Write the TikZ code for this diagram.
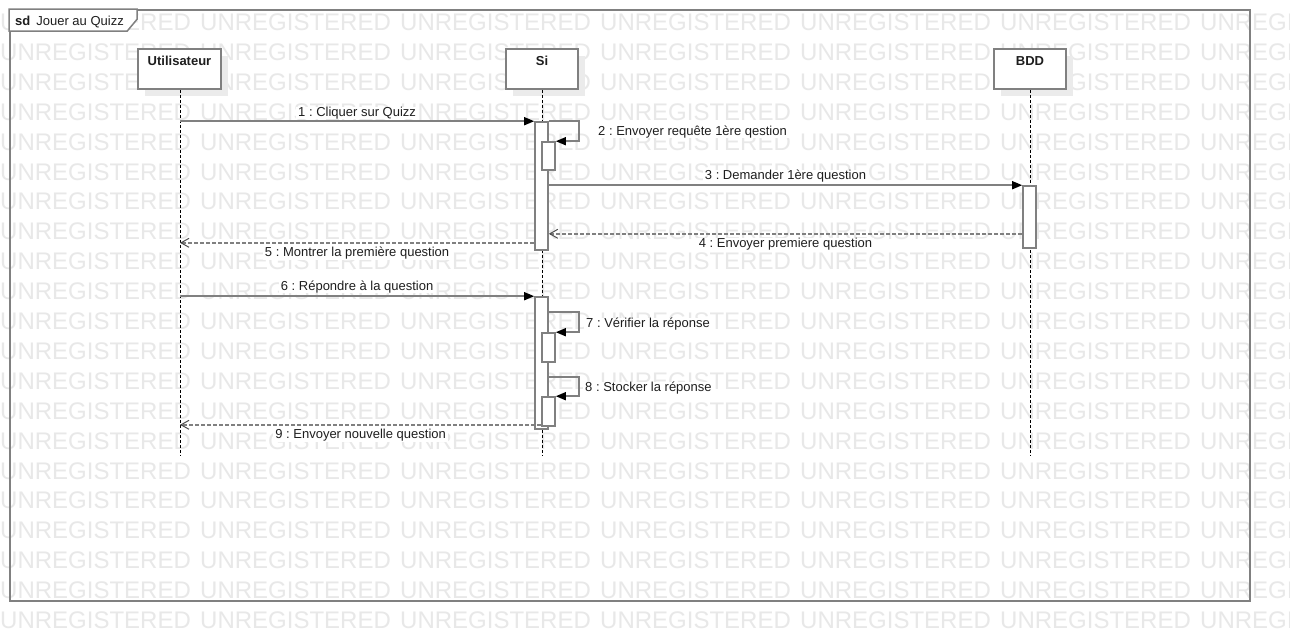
\documentclass[tikz,border=0pt]{standalone}
\usepackage{fontspec}
\setmainfont{Liberation Sans}
\usetikzlibrary{arrows.meta,shadows}
\definecolor{linegray}{HTML}{808080}
\definecolor{wmgray}{HTML}{E8E8E8}
\definecolor{shadowgray}{HTML}{EBEBEB}
\definecolor{inkc}{HTML}{1E1E1E}
\frenchspacing
\begin{document}
\begin{tikzpicture}[x=1pt,y=-1pt,
  wm/.style={font=\fontsize{24}{28}\selectfont, text=wmgray, inner sep=0pt, anchor=base west},
  lbl/.style={font=\fontsize{13}{15}\selectfont, text=inkc, fill=white, inner xsep=2pt, inner ysep=0pt},
  selflbl/.style={lbl, anchor=base west},
  headbox/.style={draw=linegray, line width=1.7pt, fill=white, minimum width=#1,
    minimum height=40pt, inner sep=0pt,
    general shadow={fill=shadowgray, shadow xshift=7pt, shadow yshift=-7pt}},
  headname/.style={font=\fontsize{13}{15}\selectfont\bfseries, text=inkc, inner sep=0pt, anchor=base},
  lifeline/.style={draw=black, line width=1pt, dash pattern=on 3pt off 2pt},
  act/.style={draw=linegray, line width=1.6pt, fill=white, minimum width=13pt,
    inner sep=0pt, minimum height=#1},
  msg/.style={draw=linegray, line width=1.5pt,
    -{Triangle[length=10pt,width=8pt,color=black]}},
  reply/.style={draw=linegray, line width=1.5pt, dash pattern=on 4pt off 2pt,
    -{Straight Barb[length=8pt,width=9pt,line width=1pt,color=linegray!60!black]}},
  frameline/.style={draw=linegray, line width=1.7pt, inner sep=0pt},
  tabshape/.style={draw=linegray, line width=1.5pt, fill=white}
]
\useasboundingbox (0,0) rectangle (1290,641);
\fill[white] (0,0) rectangle (1290,641);

% background stamp text, clipped to the page
\begin{scope}
  \clip (0,0) rectangle (1290,641);
  \foreach \k in {0,...,20}{
    \foreach \j in {0,...,6}{
      \node[wm] (wm-\k-\j) at ({200*\j}, {30.5+29.9*\k}) {UNREGISTERED};
    }
  }
\end{scope}

% diagram frame and its name tab
\node[frameline, minimum width=1240pt, minimum height=591pt] (fr) at (630,305.5) {};
\draw[tabshape] (fr.north west) -- ++(128,0) -- ++(0,10) -- ++(-10,12) -- ++(-118,0) -- cycle;
\node[font=\fontsize{13}{15}\selectfont, text=inkc, inner sep=0pt, anchor=base west]
  (sdname) at (15,25.7) {\textbf{sd}\hspace{6pt}Jouer au Quizz};

% lifeline heads
\node[headbox=83pt] (u) at (179.5,69) {};
\node[headbox=72pt] (s) at (542,69) {};
\node[headbox=72pt] (b) at (1030,69) {};
\node[headname] (uname) at ([yshift=-17.5pt]u.north) {Utilisateur};
\node[headname] (sname) at ([yshift=-17.5pt]s.north) {Si};
\node[headname] (bname) at ([yshift=-17.5pt]b.north) {BDD};

% lifelines
\coordinate (uend) at (180,455);
\coordinate (send) at (542,455);
\coordinate (bend) at (1030,455);
\draw[lifeline] (u.south -| uend) -- (uend);
\draw[lifeline] (s.south) -- (send);
\draw[lifeline] (b.south) -- (bend);

% activation bars
\node[act=128pt] (a1) at (541.5,186) {};
\node[act=28pt] (a1n) at (548.5,156) {};
\node[act=62pt] (b1) at (1029.5,217) {};
\node[act=132pt] (a2) at (541.5,363) {};
\node[act=29pt] (a2a) at (548.5,347.5) {};
\node[act=29pt] (a2b) at (548.5,411.5) {};

% messages
\draw[msg] (uend |- a1.north west) -- (a1.north west)
  node[lbl, midway, anchor=base, yshift=5pt] (l1) {1 : Cliquer sur Quizz};

\draw[msg] (a1.north east) -- ++(30,0) |- (a1n.north east);
\node[selflbl] (l2) at (596,135.7) {2 : Envoyer requête 1ère qestion};

\draw[msg] (a1.east |- b1.north) -- (b1.north west)
  node[lbl, midway, anchor=base, yshift=6pt] (l3) {3 : Demander 1ère question};

\coordinate (r4) at ([yshift=15pt]b1.south west);
\draw[reply] (r4) -- (a1.east |- r4)
  node[lbl, midway, anchor=base, yshift=-14pt] (l4) {4 : Envoyer premiere question};

\coordinate (r5) at ([yshift=8pt]a1.south west);
\draw[reply] (r5) -- (uend |- r5)
  node[lbl, midway, anchor=base, yshift=-14pt] (l5) {5 : Montrer la première question};

\draw[msg] (uend |- a2.north west) -- (a2.north west)
  node[lbl, midway, anchor=base, yshift=6pt] (l6) {6 : Répondre à la question};

\draw[msg] (a2.east |- a2a.north) ++(0,-20) -- ++(30,0) |- (a2a.north east);
\node[selflbl] (l7) at (584,327.7) {7 : Vérifier la réponse};

\draw[msg] (a2.east |- a2b.north) ++(0,-19) -- ++(30,0) |- (a2b.north east);
\node[selflbl] (l8) at (583,391.7) {8 : Stocker la réponse};

\coordinate (r9) at ([yshift=2pt]a2b.south west);
\draw[reply] (r9) -- (uend |- r9)
  node[lbl, midway, anchor=base, yshift=-14pt] (l9) {9 : Envoyer nouvelle question};
\end{tikzpicture}
\end{document}
